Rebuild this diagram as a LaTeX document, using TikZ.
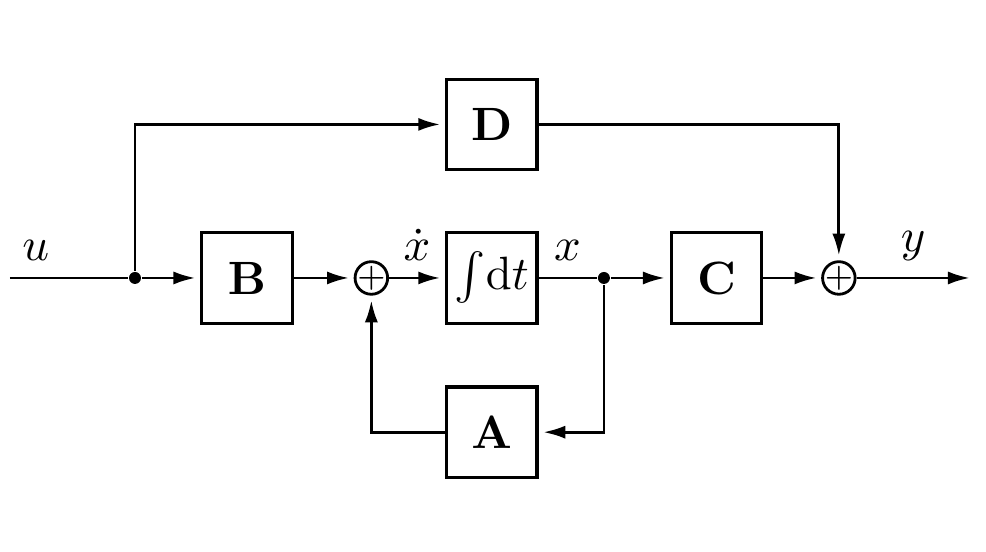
\documentclass[tikz,border=0pt]{standalone}
\usetikzlibrary{positioning,arrows.meta}
\begin{document}
\begin{tikzpicture}[line width=0.6pt, >={Latex[length=4.7pt,width=2.8pt]},
  block/.style = {draw, line width=0.7pt, minimum size=0.68cm, inner sep=0pt},
  sum/.style = {draw, circle, minimum size=0.245cm, inner sep=-1pt, font=\scriptsize},
  dot/.style = {circle, fill, minimum size=0.09cm, inner sep=0pt},
  sig/.style = {->, shorten >=1pt}]
  \useasboundingbox (0,0) rectangle (7.414,-4.150);
  \coordinate (in) at (0.075,-2.09);
  \node[block] (B) at (1.857,-2.09) {$\mathbf{B}$};
  \node[sum, right=0.45cm of B] (s1) {$+$};
  \node[block, right=0.42cm of s1] (int) {$\int\!\mathrm{d}t$};
  \node[block, right=0.985cm of int] (C) {$\mathbf{C}$};
  \node[sum, right=0.435cm of C] (s2) {$+$};
  \node[block, above=0.45cm of int] (D) {$\mathbf{D}$};
  \node[block, below=0.455cm of int] (A) {$\mathbf{A}$};
  \node[dot] (b1) at (1.015,-2.09) {};
  \node[dot] (b2) at (4.541,-2.09) {};
  \coordinate (out) at (7.293,-2.09);

  \draw (in) -- node[above, pos=0.22] {$u$} (b1);
  \draw[sig] (b1) -- (B);
  \draw[sig] (B) -- (s1);
  \draw[sig] (s1) -- node[above] {$\dot{x}$} (int);
  \draw (int) -- node[above] {$x$} (b2);
  \draw[sig] (b2) -- (C);
  \draw[sig] (C) -- (s2);
  \draw[->] (s2) -- node[above] {$y$} (out);
  \draw[sig] (b1) |- (D);
  \draw[sig] (D) -| (s2);
  \draw[sig] (b2) |- (A);
  \draw[sig] (A) -| (s1);
\end{tikzpicture}
\end{document}
